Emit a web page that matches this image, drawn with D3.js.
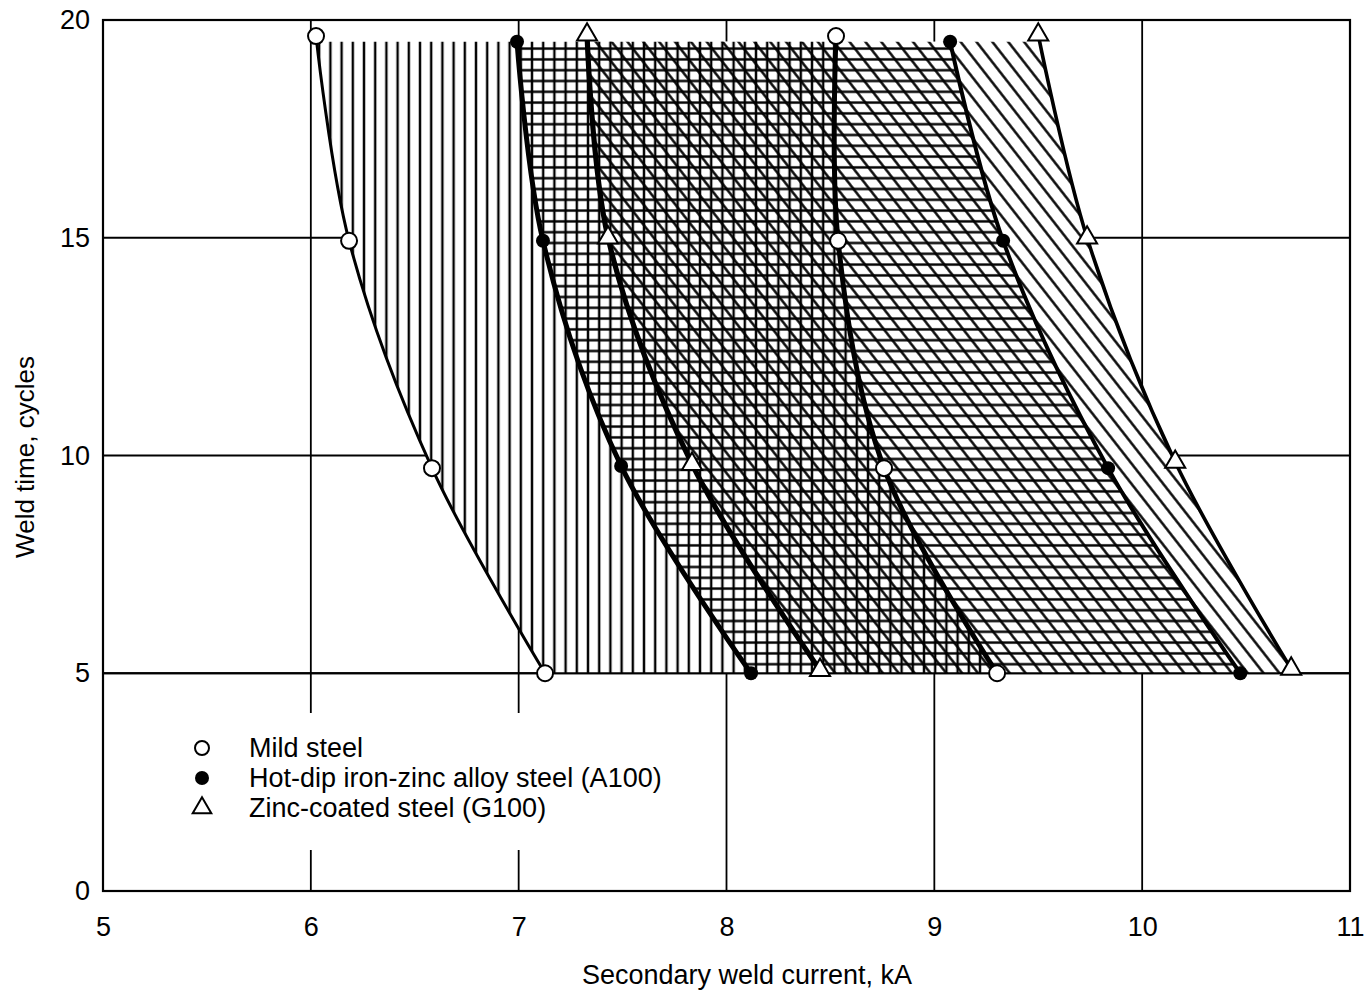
<!DOCTYPE html>
<html>
<head>
<meta charset="utf-8">
<script src="https://cdn.jsdelivr.net/npm/d3@7"></script>
<style>
  body { margin: 0; background: #fff; }
  svg text { font-family: "Liberation Sans", Arial, sans-serif; fill: #000; }
</style>
</head>
<body>
<svg id="chart" width="1368" height="991"></svg>
<script>
(function () {
    'use strict';

    // axis ticks
    const xTicks = [5, 6, 7, 8, 9, 10, 11];
    const yTicks = [0, 5, 10, 15, 20];

    // lobe boundaries, [current kA, weld time cycles]
    const mildLow = [[6.025, 19.63], [6.184, 14.93], [6.583, 9.71], [7.127, 5.0]];
    const mildHigh = [[8.527, 19.63], [8.537, 14.93], [8.758, 9.71], [9.302, 5.0]];
    const hotLow = [[6.992, 19.5], [7.117, 14.93], [7.493, 9.76], [8.118, 5.0]];
    const hotHigh = [[9.076, 19.5], [9.331, 14.93], [9.836, 9.71], [10.472, 5.0]];
    const zincLow = [[7.329, 19.66], [7.43, 15.0], [7.834, 9.8], [8.45, 5.07]];
    const zincHigh = [[9.5, 19.66], [9.735, 15.0], [10.159, 9.85], [10.717, 5.1]];
    const bandTop = 19.5;
    const bandBottom = 5;

    const legendLabels = ['Mild steel', 'Hot-dip iron-zinc alloy steel (A100)', 'Zinc-coated steel (G100)'];

    const svg = d3.select('#chart');
    const x = d3.scaleLinear().domain([5, 11]).range([103, 1350]);
    const y = d3.scaleLinear().domain([0, 20]).range([891, 20]);
    const ink = '#000';

    const line = d3.line()
        .x((d) => x(d[0]))
        .y((d) => y(d[1]))
        .curve(d3.curveCatmullRom.alpha(0.5));

    // closed region between two boundaries, ends pushed past the band so the clip trims them
    function regionPath(low, high) {
        const a = line(low);
        const b = line(high.slice().reverse()).replace(/^M/, 'L');
        const lo = low[low.length - 1], hi = high[high.length - 1];
        const loTop = low[0], hiTop = high[0];
        return `M${x(loTop[0])},${y(20)}L` + a.slice(1) +
            `L${x(lo[0])},${y(4.5)}L${x(hi[0])},${y(4.5)}` + b +
            `L${x(hiTop[0])},${y(20)}Z`;
    }

    const defs = svg.append('defs');
    function hatch(id, angle, gap, w) {
        const p = defs.append('pattern')
            .attr('id', id)
            .attr('patternUnits', 'userSpaceOnUse')
            .attr('width', gap).attr('height', gap)
            .attr('patternTransform', `rotate(${angle})`);
        p.append('line')
            .attr('x1', gap / 2).attr('y1', -1)
            .attr('x2', gap / 2).attr('y2', gap + 1)
            .attr('stroke', ink).attr('stroke-width', w);
    }
    hatch('hatch-v', 0, 11.2, 2.4);
    hatch('hatch-h', 90, 10.8, 2.4);
    hatch('hatch-d', -38, 12.5, 2.4);

    defs.append('clipPath').attr('id', 'band-clip')
        .append('rect')
        .attr('x', x(5)).attr('width', x(11) - x(5))
        .attr('y', y(bandTop)).attr('height', y(bandBottom) - y(bandTop));

    // grid
    const grid = svg.append('g').attr('stroke', ink).attr('stroke-width', 1.8);
    xTicks.slice(1, -1).forEach((v) => {
        grid.append('line').attr('x1', x(v)).attr('x2', x(v)).attr('y1', y(0)).attr('y2', y(20));
    });
    yTicks.slice(1, -1).forEach((v) => {
        grid.append('line').attr('x1', x(5)).attr('x2', x(11)).attr('y1', y(v)).attr('y2', y(v));
    });

    // hatched lobes
    const regions = [
        { d: regionPath(mildLow, mildHigh), fill: 'url(#hatch-v)' },
        { d: regionPath(hotLow, hotHigh), fill: 'url(#hatch-h)' },
        { d: regionPath(zincLow, zincHigh), fill: 'url(#hatch-d)' },
    ];
    const band = svg.append('g').attr('clip-path', 'url(#band-clip)');
    regions.forEach((r) => band.append('path').attr('d', r.d).attr('fill', '#fff'));
    regions.forEach((r) => band.append('path').attr('d', r.d).attr('fill', r.fill));

    // 5-cycle line over the band bottom
    svg.append('line')
        .attr('x1', x(5)).attr('x2', x(11)).attr('y1', y(5)).attr('y2', y(5))
        .attr('stroke', ink).attr('stroke-width', 1.8);

    // frame
    svg.append('rect')
        .attr('x', x(5)).attr('y', y(20))
        .attr('width', x(11) - x(5)).attr('height', y(0) - y(20))
        .attr('fill', 'none').attr('stroke', ink).attr('stroke-width', 2.2);

    // boundary curves
    const curves = [
        [mildLow, 3], [mildHigh, 5],
        [hotLow, 5], [hotHigh, 4],
        [zincLow, 5.2], [zincHigh, 3.6],
    ];
    curves.forEach(([pts, w]) => {
        svg.append('path').attr('d', line(pts))
            .attr('fill', 'none').attr('stroke', ink).attr('stroke-width', w);
    });

    // markers
    function openCircle(g, cx, cy, r) {
        g.append('circle').attr('cx', cx).attr('cy', cy).attr('r', r)
            .attr('fill', '#fff').attr('stroke', ink).attr('stroke-width', 2);
    }
    function dot(g, cx, cy, r) {
        g.append('circle').attr('cx', cx).attr('cy', cy).attr('r', r).attr('fill', ink);
    }
    function triangle(g, cx, cy, s) {
        g.append('path').attr('d', d3.symbol().type(d3.symbolTriangle).size(s)())
            .attr('transform', `translate(${cx},${cy})`)
            .attr('fill', '#fff').attr('stroke', ink).attr('stroke-width', 2);
    }
    const marks = svg.append('g');
    mildLow.concat(mildHigh).forEach((d) => openCircle(marks, x(d[0]), y(d[1]), 8));
    hotLow.concat(hotHigh).forEach((d) => dot(marks, x(d[0]), y(d[1]), 7));
    zincLow.concat(zincHigh).forEach((d) => triangle(marks, x(d[0]), y(d[1]), 175));

    // legend
    const legend = svg.append('g');
    legend.append('rect').attr('x', 160).attr('y', 713).attr('width', 540).attr('height', 137).attr('fill', '#fff');
    const rowY = [748, 778, 808];
    openCircle(legend, 202, rowY[0], 7);
    dot(legend, 202, rowY[1], 7);
    triangle(legend, 202, rowY[2], 150);
    legendLabels.forEach((t, i) => {
        legend.append('text').attr('x', 249).attr('y', rowY[i])
            .attr('dominant-baseline', 'central')
            .attr('font-size', 27).text(t);
    });

    // axes (labels only; frame and grid drawn above)
    const xAxis = svg.append('g')
        .attr('transform', `translate(0,${y(0)})`)
        .call(d3.axisBottom(x).tickValues(xTicks).tickSize(0).tickPadding(26).tickFormat(d3.format('d')));
    const yAxis = svg.append('g')
        .attr('transform', `translate(${x(5)},0)`)
        .call(d3.axisLeft(y).tickValues(yTicks).tickSize(0).tickPadding(13).tickFormat(d3.format('d')));
    [xAxis, yAxis].forEach((a) => {
        a.select('.domain').remove();
        a.selectAll('text').attr('font-size', 27)
            .attr('font-family', '"Liberation Sans", Arial, sans-serif').attr('fill', ink);
    });

    svg.append('text')
        .attr('x', 747).attr('y', 984)
        .attr('text-anchor', 'middle').attr('font-size', 27)
        .text('Secondary weld current, kA');
    svg.append('text')
        .attr('transform', `translate(25,457) rotate(-90)`)
        .attr('text-anchor', 'middle').attr('dominant-baseline', 'central').attr('font-size', 26)
        .text('Weld time, cycles');
})();
</script>
</body>
</html>
